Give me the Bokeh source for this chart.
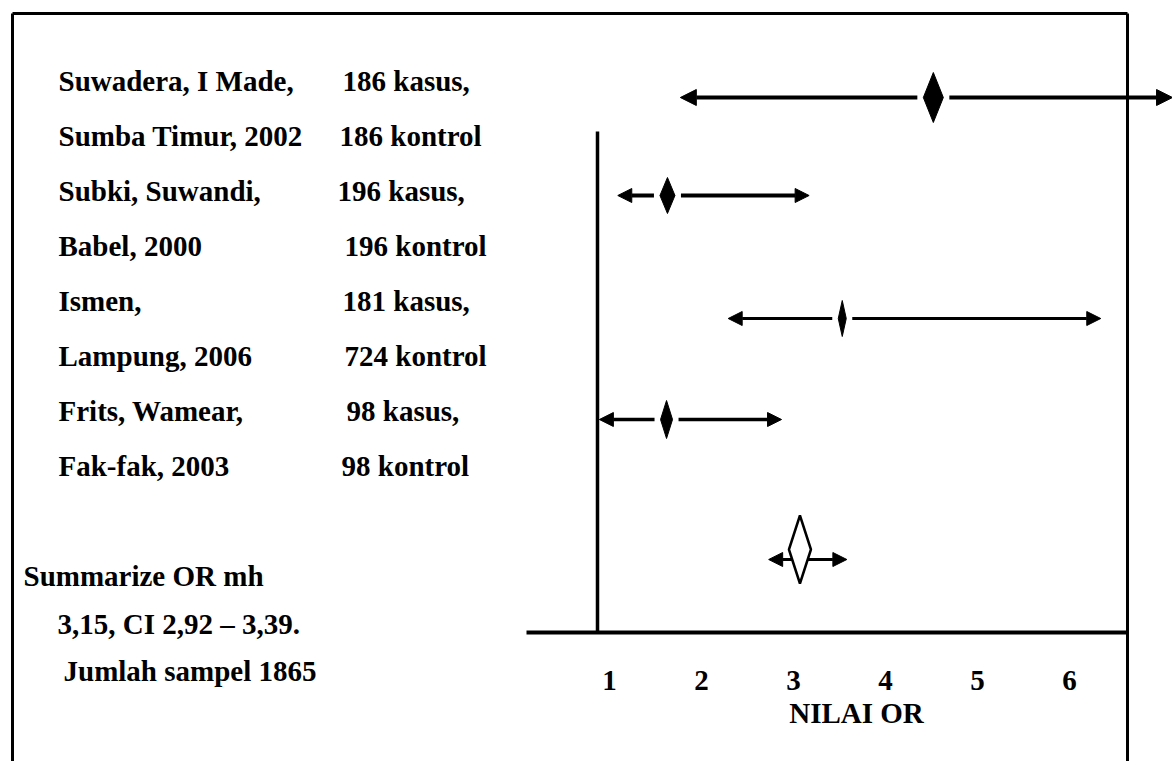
from bokeh.plotting import figure
from bokeh.models import Range1d, ColumnDataSource, Arrow, NormalHead
from bokeh.core.properties import value
from bokeh.embed import file_html
from bokeh.resources import INLINE

# ---------------- data ----------------
study_name = ["Suwadera, I Made,", "Subki, Suwandi,", "Ismen,", "Frits, Wamear,"]
study_place = ["Sumba Timur, 2002", "Babel, 2000", "Lampung, 2006", "Fak-fak, 2003"]
kasus = ["186 kasus,", "196 kasus,", "181 kasus,", "98 kasus,"]
kontrol = ["186 kontrol", "196 kontrol", "724 kontrol", "98 kontrol"]
odds_ratio = [4.52, 1.63, 3.53, 1.62]
ci_low = [1.77, 1.09, 2.29, 0.89]
ci_high = [7.12, 3.17, 6.34, 2.87]
summary_or = 3.07
summary_low = 2.73
summary_high = 3.58
summary_text = ["Summarize OR mh", "3,15, CI 2,92 \u2013 3,39.", "Jumlah sampel 1865"]
tick_values = [1, 2, 3, 4, 5, 6]
tick_labels = ["1", "2", "3", "4", "5", "6"]
axis_title = "NILAI OR"

# ---------------- layout / style ----------------
W, H = 1172, 761
X1_PX = 609.0      # pixel of OR = 1
PPU = 92.0         # pixels per OR unit
FONT = value("serif")
FSIZE = "29px"

p = figure(width=W, height=H, output_backend="svg", toolbar_location=None,
           x_range=Range1d(1 - X1_PX / PPU, 1 + (W - X1_PX) / PPU),
           y_range=Range1d(H, 0), x_axis_type=None, y_axis_type=None,
           min_border=0, outline_line_color=None)
p.extra_x_ranges = {"px": Range1d(0, W)}
p.grid.visible = False
p.background_fill_color = "white"
p.border_fill_color = "white"

# frame lines (box border, reference line, base axis line)
p.segment(x0=[12, 12, 1127], y0=[13, 13, 13], x1=[1127, 12, 1127], y1=[13, H, H],
          x_range_name="px", line_color="black", line_width=3)
p.segment(x0=[597], y0=[131], x1=[597], y1=[632], x_range_name="px",
          line_color="black", line_width=3.5)
p.segment(x0=[526], y0=[632], x1=[1127], y1=[632], x_range_name="px",
          line_color="black", line_width=4)

# study labels
row_y = [80 + 55 * i for i in range(8)]
col1 = []
col2 = []
for a, b, c, d in zip(study_name, study_place, kasus, kontrol):
    col1 += [a, b]
    col2 += [c, d]
col2_x = [342, 339, 337, 344, 342, 344, 346, 341]
p.text(x=[58] * 8, y=row_y, text=col1, x_range_name="px", text_font=FONT,
       text_font_style="bold", text_font_size=FSIZE, text_baseline="middle",
       text_align="left", text_color="black")
p.text(x=col2_x, y=row_y, text=col2, x_range_name="px", text_font=FONT,
       text_font_style="bold", text_font_size=FSIZE, text_baseline="middle",
       text_align="left", text_color="black")

# summary labels
p.text(x=[23, 57, 63], y=[575, 623, 670], text=summary_text, x_range_name="px",
       text_font=FONT, text_font_style="bold", text_font_size=FSIZE,
       text_baseline="middle", text_align="left", text_color="black")

# tick labels and axis title
p.text(x=tick_values, y=[680] * len(tick_values), text=tick_labels, text_font=FONT,
       text_font_style="bold", text_font_size=FSIZE, text_baseline="middle",
       text_align="center", text_color="black")
p.text(x=[1 + (856 - X1_PX) / PPU], y=[712], text=[axis_title], text_font=FONT,
       text_font_style="bold", text_font_size=FSIZE, text_baseline="middle",
       text_align="center", text_color="black")

# study markers
marker_y = [97, 195, 318, 419]
dia_h = [50, 36, 36, 38]
dia_w = [20, 15, 8, 12]
lw = [4, 4, 3, 3.5]
head = [16, 14, 14, 14]
gap = 6.0
xs, ys = [], []
for o, y, h, w in zip(odds_ratio, marker_y, dia_h, dia_w):
    hw = w / 2 / PPU
    xs.append([o - hw, o, o + hw, o])
    ys.append([y, y - h / 2, y, y + h / 2])
p.patches(xs=xs, ys=ys, fill_color="black", line_color="black", line_width=1)

for o, lo, hi, y, w, l, hs in zip(odds_ratio, ci_low, ci_high, marker_y, dia_w, lw, head):
    off = (w / 2 + gap) / PPU
    for start, end in ((o - off, lo), (o + off, hi)):
        p.add_layout(Arrow(end=NormalHead(size=hs, fill_color="black", line_color="black",
                                          line_width=1),
                           x_start=start, y_start=y, x_end=end, y_end=y,
                           line_color="black", line_width=l))

# summary marker
sy = 549
sh, sw = 68, 22
ay = 559
for end in (summary_low, summary_high):
    p.add_layout(Arrow(end=NormalHead(size=14, fill_color="black", line_color="black",
                                      line_width=1),
                       x_start=summary_or, y_start=ay, x_end=end, y_end=ay,
                       line_color="black", line_width=3, level="underlay"))
shw = sw / 2 / PPU
p.patch(x=[summary_or - shw, summary_or, summary_or + shw, summary_or],
        y=[sy, sy - sh / 2, sy, sy + sh / 2], fill_color="white",
        line_color="black", line_width=2.5)

open("out.html", "w").write(file_html(p, INLINE))
